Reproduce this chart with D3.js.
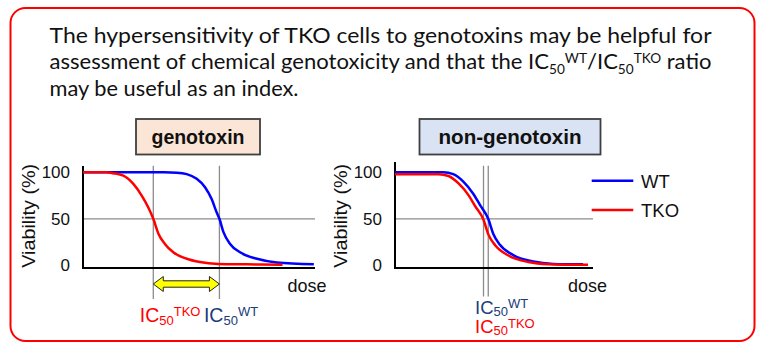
<!DOCTYPE html>
<html>
<head>
<meta charset="utf-8">
<script src="https://cdn.jsdelivr.net/npm/d3@7"></script>
<style>
  html, body { margin: 0; padding: 0; background: #ffffff; }
  svg { display: block; }
  .chart text { font-family: "Liberation Sans", Arial, sans-serif; }
  .topText text { font-family: Lato, "Open Sans", sans-serif; fill: #111; }
</style>
</head>
<body>
<script>
// ---------------- data ----------------
const yTicks = [0, 50, 100];
const seriesNames = ["WT", "TKO"];
const seriesColors = ["#0000ff", "#ff0000"];

// genotoxin panel (dose in arbitrary units 0..100)
const genoWTDose  = [0, 35, 40.4, 44.7, 49, 52.6, 55.5, 57.6, 58.8, 60.5, 63.4, 67.7, 75, 83.5, 99.5];
const genoWTViab  = [100, 100, 99.6, 98, 93, 84, 71, 57, 50, 36, 23, 14, 7, 3, 1];
const genoTKODose = [0, 10, 13, 17.4, 21.7, 25.3, 28.1, 30.3, 32.5, 35.3, 38.9, 44.7, 50.4, 58.3, 70.6, 86];
const genoTKOViab = [100, 100, 99, 96.4, 87.5, 75, 62.5, 50, 34, 23, 14, 7, 3.5, 1.5, 1, 0.5];
const genoIC50 = [58.8, 30.3];   // WT, TKO

// non-genotoxin panel
const nonWTDose  = [0, 24.4, 29.4, 34.5, 39.5, 42.9, 47.1, 49.6, 53, 59.7, 69.8, 79.9, 95];
const nonWTViab  = [100, 100, 98, 90, 77, 65, 50, 34, 22, 11, 4, 1.5, 1];
const nonTKODose = [0, 22, 27, 32.1, 37.1, 40.5, 44.7, 47.2, 50.6, 57.3, 67.4, 77.5, 97.5];
const nonTKOViab = [98, 98, 96, 88, 75.5, 63.5, 49, 33, 21.5, 10.5, 3.5, 1.2, 0.5];
const nonIC50 = [47.1, 44.7];    // WT, TKO

const panelTitles = ["genotoxin", "non-genotoxin"];
const panelFills = ["#fbe5d6", "#dae3f3"];

// ---------------- drawing ----------------
const W = 763, H = 351;
const svg = d3.select("body").append("svg").attr("width", W).attr("height", H);
svg.append("rect").attr("width", W).attr("height", H).attr("fill", "#fff");

// outer red rounded frame
svg.append("rect").attr("x", 10.5).attr("y", 8).attr("width", 744).attr("height", 333)
  .attr("rx", 15).attr("fill", "none").attr("stroke", "#ff0000").attr("stroke-width", 2);

// top statement
const topG = svg.append("g").attr("class", "topText").style("font-size", "21px");
topG.append("text").attr("x", 49.5).attr("y", 42.5)
  .attr("textLength", 662).attr("lengthAdjust", "spacingAndGlyphs")
  .text("The hypersensitivity of TKO cells to genotoxins may be helpful for");
const l2 = topG.append("text").attr("x", 49.5).attr("y", 69)
  .attr("textLength", 662).attr("lengthAdjust", "spacingAndGlyphs");
l2.append("tspan").text("assessment of chemical genotoxicity and that the IC");
l2.append("tspan").attr("dy", 5).style("font-size", "13px").text("50");
l2.append("tspan").attr("dy", -11).style("font-size", "13px").text("WT");
l2.append("tspan").attr("dy", 6).text("/IC");
l2.append("tspan").attr("dy", 5).style("font-size", "13px").text("50");
l2.append("tspan").attr("dy", -11).style("font-size", "13px").text("TKO");
l2.append("tspan").attr("dy", 6).text(" ratio");
topG.append("text").attr("x", 49.5).attr("y", 96)
  .attr("textLength", 249).attr("lengthAdjust", "spacingAndGlyphs")
  .text("may be useful as an index.");

const y = d3.scaleLinear().domain([0, 100]).range([265.3, 172.3]);
const axisFloor = -3;

function panel(cfg) {
  const g = svg.append("g").attr("class", "chart");
  const x = d3.scaleLinear().domain([0, 100]).range(cfg.range);

  // title box
  g.append("rect").attr("x", cfg.box[0]).attr("y", 119).attr("width", cfg.box[1] - cfg.box[0])
    .attr("height", 35.5).attr("fill", cfg.fill).attr("stroke", "#3f3f3f").attr("stroke-width", 1.8);
  g.append("text").attr("x", (cfg.box[0] + cfg.box[1]) / 2).attr("y", 143.5)
    .attr("text-anchor", "middle").style("font-size", "20px").style("font-weight", "bold")
    .attr("fill", "#111").attr("textLength", cfg.titleLen).attr("lengthAdjust", "spacingAndGlyphs")
    .text(cfg.title);

  // 50% reference line
  g.append("line").attr("x1", x(0)).attr("x2", x(100)).attr("y1", y(50)).attr("y2", y(50))
    .attr("stroke", "#8c8c8c").attr("stroke-width", 1.3);
  // IC50 vertical lines
  cfg.ic50.forEach(v => {
    g.append("line").attr("x1", x(v)).attr("x2", x(v)).attr("y1", y(107)).attr("y2", cfg.vBottom)
      .attr("stroke", "#8c8c8c").attr("stroke-width", 1.3);
  });

  // y axis labels
  const ax = d3.axisLeft(y).tickValues(yTicks).tickSize(0).tickPadding(13);
  const ag = g.append("g").attr("transform", `translate(${x(0)},0)`).call(ax);
  ag.select(".domain").remove();
  ag.selectAll("text").style("font-size", "17px").attr("fill", "#111")
    .attr("font-family", "'Liberation Sans', Arial, sans-serif");

  // axes lines
  g.append("line").attr("x1", x(0)).attr("x2", x(0)).attr("y1", y(cfg.axisTop)).attr("y2", y(axisFloor) + 1)
    .attr("stroke", "#000").attr("stroke-width", 2);
  g.append("line").attr("x1", x(0)).attr("x2", x(100)).attr("y1", y(axisFloor)).attr("y2", y(axisFloor))
    .attr("stroke", "#000").attr("stroke-width", 2);

  // curves
  const line = d3.line().x(d => x(d[0])).y(d => y(d[1])).curve(d3.curveMonotoneX);
  cfg.series.forEach((s, i) => {
    g.append("path").datum(d3.zip(s[0], s[1])).attr("d", line)
      .attr("fill", "none").attr("stroke", seriesColors[s[2]]).attr("stroke-width", 2.5);
  });

  // axis titles
  g.append("text").attr("transform", `translate(${cfg.vLabelX},${y(50) - 3}) rotate(-90)`)
    .attr("text-anchor", "middle").style("font-size", "17.5px").attr("fill", "#111")
    .attr("textLength", 104).attr("lengthAdjust", "spacingAndGlyphs").text("Viability (%)");
  g.append("text").attr("x", cfg.doseX).attr("y", 291.5).style("font-size", "18.5px").attr("fill", "#111")
    .attr("textLength", 39).attr("lengthAdjust", "spacingAndGlyphs").text("dose");

  return { g, x };
}

function ic50Label(g, xPos, yPos, sup, color, subDy, supDy, fs) {
  const t = g.append("text").attr("x", xPos).attr("y", yPos).attr("fill", color).style("font-size", fs + "px");
  t.append("tspan").text("IC");
  t.append("tspan").attr("dy", subDy).style("font-size", "13px").text("50");
  t.append("tspan").attr("dy", supDy).style("font-size", "13px").text(sup);
}

// ---- genotoxin panel
const p1 = panel({
  range: [83, 315], box: [136, 260], title: panelTitles[0], titleLen: 93, fill: panelFills[0],
  ic50: genoIC50, vBottom: 299, axisTop: 106.7, vLabelX: 35, doseX: 287.5,
  series: [[genoWTDose, genoWTViab, 0], [genoTKODose, genoTKOViab, 1]]
});
// yellow double arrow between IC50s
{
  const x1 = p1.x(genoIC50[1]), x2 = p1.x(genoIC50[0]), cy = 284, hl = 10, hh = 7.5, sh = 3.2;
  const pts = [[x1, cy], [x1 + hl, cy - hh], [x1 + hl, cy - sh], [x2 - hl, cy - sh], [x2 - hl, cy - hh],
               [x2, cy], [x2 - hl, cy + hh], [x2 - hl, cy + sh], [x1 + hl, cy + sh], [x1 + hl, cy + hh]];
  p1.g.append("path").attr("d", "M" + pts.map(p => p.join(",")).join("L") + "Z")
    .attr("fill", "#ffff00").attr("stroke", "#222").attr("stroke-width", 1);
}
ic50Label(p1.g, p1.x(genoIC50[1]) - 13.5, 321.5, "TKO", "#ff0000", 3, -9, 19.5);
ic50Label(p1.g, p1.x(genoIC50[0]) - 15.5, 321.5, "WT", "#203c78", 3, -9, 19.5);

// ---- non-genotoxin panel
const p2 = panel({
  range: [395, 593], box: [419.5, 600.5], title: panelTitles[1], titleLen: 143, fill: panelFills[1],
  ic50: nonIC50, vBottom: 296.5, axisTop: 111, vLabelX: 347, doseX: 568,
  series: [[nonWTDose, nonWTViab, 0], [nonTKODose, nonTKOViab, 1]]
});
ic50Label(p2.g, p2.x(nonIC50[1]) - 8.5, 313.5, "WT", "#203c78", 2, -8, 18.5);
ic50Label(p2.g, p2.x(nonIC50[1]) - 8.5, 333, "TKO", "#ff0000", 2, -7.5, 18.5);

// legend
const leg = svg.append("g").attr("class", "chart");
seriesNames.forEach((n, i) => {
  const ly = 180.7 + i * 29.3;
  leg.append("line").attr("x1", 591.7).attr("x2", 633.3).attr("y1", ly).attr("y2", ly)
    .attr("stroke", seriesColors[i]).attr("stroke-width", 2.5);
  leg.append("text").attr("x", 641).attr("y", ly + 6.8).style("font-size", "18.5px").attr("fill", "#111").text(n);
});
</script>
</body>
</html>
